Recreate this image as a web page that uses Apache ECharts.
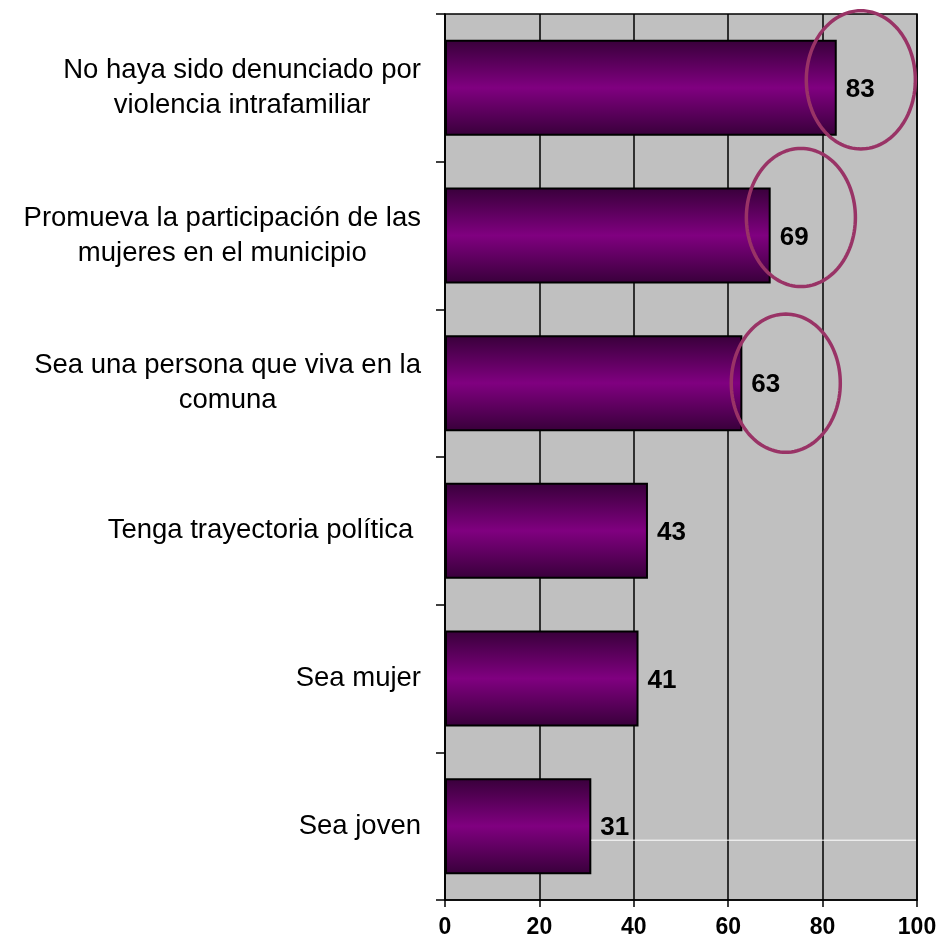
<!DOCTYPE html>
<html>
<head>
<meta charset="utf-8">
<script src="https://cdn.jsdelivr.net/npm/echarts@6/dist/echarts.min.js"></script>
<style>
html,body{margin:0;padding:0;background:#fff;}
#chart{width:940px;height:944px;}
</style>
</head>
<body>
<div id="chart"></div>
<script>
// Data
const categories = [
  'No haya sido denunciado por\nviolencia intrafamiliar',
  'Promueva la participación de las\nmujeres en el municipio',
  'Sea una persona que viva en la\ncomuna',
  'Tenga trayectoria política ',
  'Sea mujer',
  'Sea joven'
];
const values = [83, 69, 63, 43, 41, 31];
const xTicks = [0, 20, 40, 60, 80, 100];
// Highlight ellipses: [center value, category row, row shift (fraction of band)]
const ellipseCenters = [88.1, 75.4, 72.2];
const ellipseRows = [0, 1, 2];
const ellipseShift = [-0.054, -0.122, 0.0];
// stray white rule seen in the source: [from value, to value, row]
const strayLine = [31, 100, 5];

const FONT = '"Liberation Sans", Arial, sans-serif';
const chart = echarts.init(document.getElementById('chart'));

const ellipseData = ellipseCenters.map((c, i) => [c, ellipseRows[i], ellipseShift[i]]);

chart.setOption({
  animation: false,
  backgroundColor: '#ffffff',
  grid: {
    left: 445, right: 23, top: 14, bottom: 44,
    show: true, backgroundColor: '#c0c0c0', borderColor: '#000', borderWidth: 1.5
  },
  xAxis: {
    type: 'value', min: xTicks[0], max: xTicks[xTicks.length - 1], interval: 20,
    axisLine: { show: true, lineStyle: { color: '#000', width: 1.5 } },
    axisTick: { show: true, length: 7, lineStyle: { color: '#000', width: 1.5 } },
    splitLine: { show: true, lineStyle: { color: '#000', width: 1.5 } },
    axisLabel: { color: '#000', fontFamily: FONT, fontWeight: 'bold', fontSize: 23, margin: 16 }
  },
  yAxis: {
    type: 'category', data: categories, inverse: true,
    axisLine: { show: true, lineStyle: { color: '#000', width: 1.5 } },
    axisTick: { show: true, length: 9, lineStyle: { color: '#000', width: 1.5 } },
    splitLine: { show: false },
    axisLabel: {
      align: 'right', margin: 24,
      formatter: v => v.split('\n').map(l => '{c|' + l + '}').join('\n'),
      rich: { c: { align: 'center', color: '#000', fontFamily: FONT, fontSize: 27.5, lineHeight: 35 } }
    }
  },
  series: [
    {
      type: 'bar', data: values, barCategoryGap: '35%',
      itemStyle: {
        borderColor: '#000', borderWidth: 2,
        color: new echarts.graphic.LinearGradient(0, 0, 0, 1, [
          { offset: 0, color: '#38003a' },
          { offset: 0.5, color: '#800080' },
          { offset: 1, color: '#38003a' }
        ])
      },
      label: {
        show: true, position: 'right', distance: 9, color: '#000',
        fontFamily: FONT, fontWeight: 'bold', fontSize: 26, offset: [0, 2]
      },
      z: 2
    },
    {
      type: 'custom', data: [strayLine], z: 3, silent: true,
      renderItem: (params, api) => {
        const a = api.coord([api.value(0), api.value(2)]);
        const b = api.coord([api.value(1), api.value(2)]);
        const band = api.size([0, 1])[1];
        const y = a[1] + 0.095 * band;
        return { type: 'line', shape: { x1: a[0], y1: y, x2: b[0] - 1, y2: y },
                 style: { stroke: '#ffffff', lineWidth: 1 } };
      }
    },
    {
      type: 'custom', data: ellipseData, z: 5, silent: true, clip: false,
      renderItem: (params, api) => {
        const c = api.coord([api.value(0), api.value(1)]);
        const band = api.size([0, 1])[1];
        const unit = api.size([1, 0])[0];
        const cx = c[0];
        const cy = c[1] + api.value(2) * band;
        const rx = 11.55 * unit;
        const ry = 0.468 * band;
        const pts = [];
        for (let k = 0; k < 120; k++) {
          const t = k / 120 * Math.PI * 2;
          pts.push([cx + rx * Math.cos(t), cy + ry * Math.sin(t)]);
        }
        return { type: 'polygon', shape: { points: pts },
                 style: { fill: 'none', stroke: '#993366', lineWidth: 3.5 } };
      }
    }
  ]
});
</script>
</body>
</html>
